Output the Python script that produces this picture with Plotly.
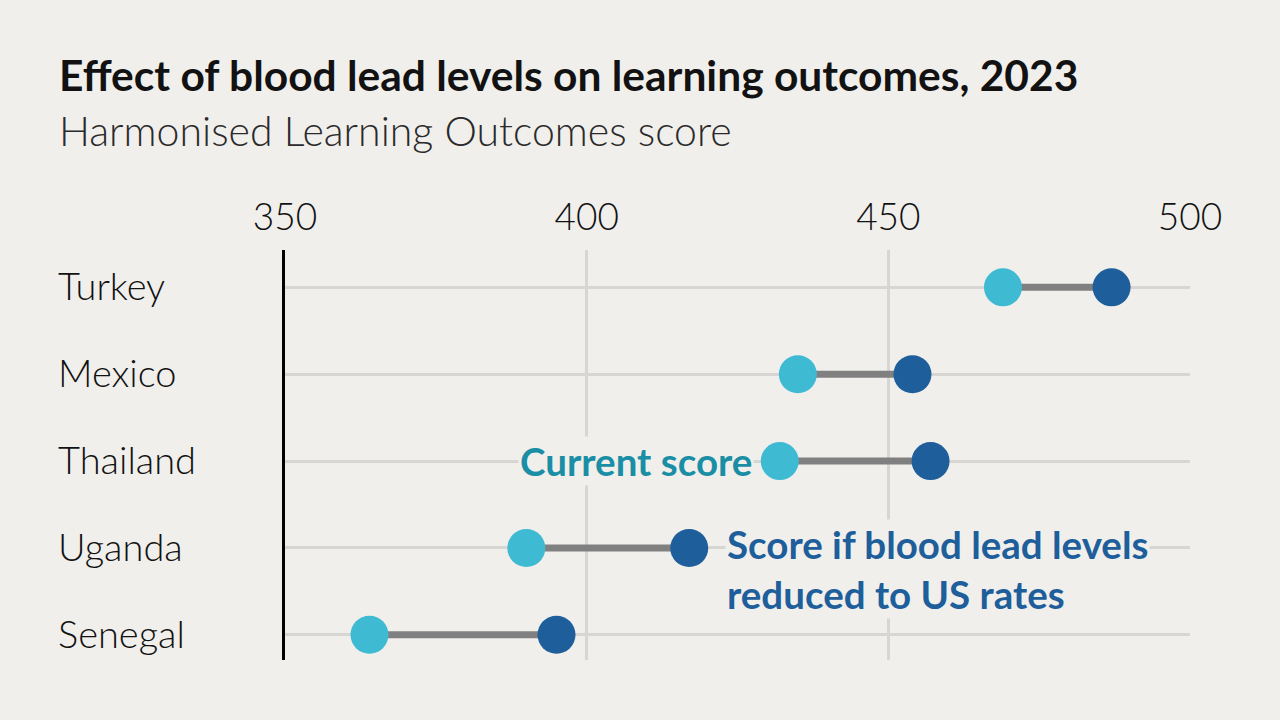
import plotly.graph_objects as go

countries = ["Turkey", "Mexico", "Thailand", "Uganda", "Senegal"]
current_score = [469, 435, 432, 390, 364]
reduced_score = [487, 454, 457, 417, 395]
x_ticks = [350, 400, 450, 500]

BG = "#f0efec"
LIGHT = "#3fbad3"
DARK = "#1d5e9b"
GRID = "#d7d6d3"
TXT = "#121212"
FONT = "Lato"

W, H = 1280, 720
ML, MR, MT, MB = 285, 90, 250, 60
PW, PH = W - ML - MR, H - MT - MB


def px(x):
    return (x - ML) / PW


def py(y):
    return (H - MB - y) / PH


rows = list(range(len(countries)))

fig = go.Figure()

# connectors
cx, cy = [], []
for i, (a, b) in enumerate(zip(current_score, reduced_score)):
    cx += [a, b, None]
    cy += [i, i, None]
fig.add_trace(go.Scatter(x=cx, y=cy, mode="lines",
                         line=dict(color="#808080", width=7),
                         hoverinfo="skip", showlegend=False))
fig.add_trace(go.Scatter(x=current_score, y=rows, mode="markers",
                         marker=dict(color=LIGHT, size=38),
                         name="Current score", showlegend=False))
fig.add_trace(go.Scatter(x=reduced_score, y=rows, mode="markers",
                         marker=dict(color=DARK, size=38),
                         name="Score if blood lead levels reduced to US rates",
                         showlegend=False))

annotations = []
# title and subtitle
annotations.append(dict(text="<b>Effect of blood lead levels on learning outcomes, 2023</b>",
                        x=px(57), y=py(74), xref="paper", yref="paper",
                        xanchor="left", yanchor="middle", showarrow=False,
                        font=dict(family=FONT, size=42.5, color=TXT)))
annotations.append(dict(text="Harmonised Learning Outcomes score",
                        x=px(57), y=py(130), xref="paper", yref="paper",
                        xanchor="left", yanchor="middle", showarrow=False,
                        font=dict(family=FONT, size=41, color="#2a2a2a", weight=300)))
# country labels
for i, c in enumerate(countries):
    annotations.append(dict(text=c, x=px(56), y=i, xref="paper", yref="y",
                            xanchor="left", yanchor="middle", showarrow=False,
                            yshift=2,
                            font=dict(family=FONT, size=38, color=TXT, weight=300)))
# series labels
annotations.append(dict(text="<b>Current score</b>", x=current_score[2], y=2,
                        xref="x", yref="y", xanchor="right", yanchor="middle",
                        xshift=-26, showarrow=False, bgcolor=BG,
                        font=dict(family=FONT, size=38.5, color="#1a8ea5")))
annotations.append(dict(text="<b>Score if blood lead levels<br>reduced to US rates</b>",
                        x=reduced_score[3], y=3, xref="x", yref="y",
                        xanchor="left", yanchor="top", yshift=29, xshift=36,
                        showarrow=False, bgcolor=BG, align="left",
                        font=dict(family=FONT, size=38.5, color=DARK)))

fig.update_layout(
    width=W, height=H,
    margin=dict(l=ML, r=MR, t=MT, b=MB),
    paper_bgcolor=BG, plot_bgcolor=BG,
    annotations=annotations,
    xaxis=dict(range=[350, 500], side="top", tickvals=x_ticks,
               showgrid=True, gridcolor=GRID, gridwidth=3,
               zeroline=False, showline=False, ticks="",
               ticklabelstandoff=12,
               tickfont=dict(family=FONT, size=37, color=TXT, weight=300),
               fixedrange=True),
    yaxis=dict(range=[len(countries) - 1 + 0.29, -0.43],
               tickvals=rows, showticklabels=False,
               showgrid=True, gridcolor=GRID, gridwidth=3,
               zeroline=False, showline=True, linecolor="#000000",
               linewidth=3, ticks="", fixedrange=True),
)

fig.write_html("out.html", config={"displayModeBar": False},
               post_script="document.body.style.margin='0';document.body.style.overflow='hidden';")
